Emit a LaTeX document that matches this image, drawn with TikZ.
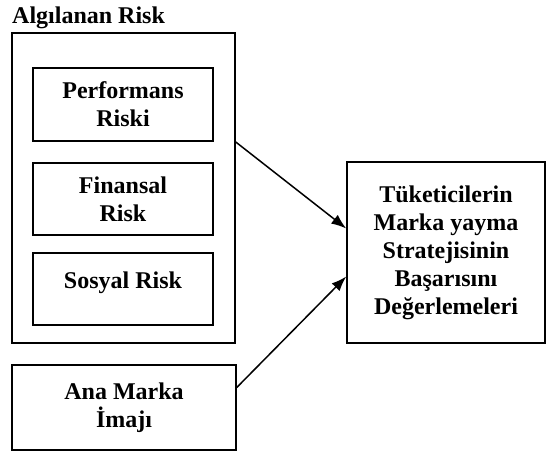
\documentclass[tikz,border=0pt]{standalone}
\usepackage{fontspec}
\setmainfont{Liberation Serif}
\usetikzlibrary{arrows.meta}
\tikzset{
  box/.style={draw, line width=1.5pt, rectangle, inner sep=0pt, align=center,
    font=\fontsize{24}{28}\selectfont\bfseries},
  txt/.style={inner sep=0pt, align=center, font=\fontsize{24}{28}\selectfont\bfseries},
  arr/.style={line width=1.5pt, -{Latex[length=15pt,width=11pt]}}
}
\begin{document}
\begin{tikzpicture}[x=1pt,y=-1pt]
\useasboundingbox (0,0) rectangle (547,453);
\node[txt, anchor=base west] (title) at (12,23) {Algılanan Risk};
\node[box, minimum width=223pt, minimum height=310pt] (outer) at (123.5,188) {};
\node[box, minimum width=180pt, minimum height=73pt] (perf) at (123,104.5) {Performans\\Riski};
\node[box, minimum width=180pt, minimum height=72pt] (fin) at (123,199) {Finansal\\Risk};
\node[box, minimum width=180pt, minimum height=72pt] (sos) at (123,289) {};
\node[txt, anchor=base] (sostext) at (123,288) {Sosyal Risk};
\node[box, minimum width=224pt, minimum height=85pt] (ana) at (124,407.5) {Ana Marka\\İmajı};
\node[box, minimum width=198pt, minimum height=181pt] (dep) at (446,252.5) {Tüketicilerin\\Marka yayma\\Stratejisinin\\Başarısını\\Değerlemeleri};
\draw[arr] ([yshift=46pt]outer.east) -- ([yshift=24pt]dep.west);
\draw[arr] ([yshift=20pt]ana.east) -- ([yshift=-24pt]dep.west);
\end{tikzpicture}
\end{document}
